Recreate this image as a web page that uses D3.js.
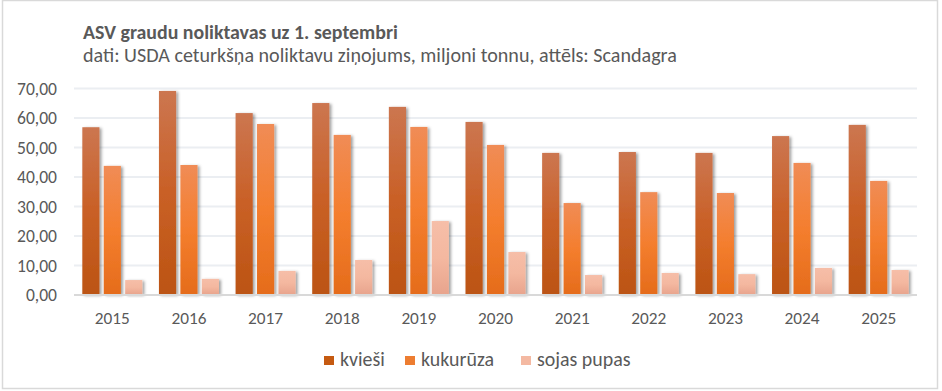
<!DOCTYPE html>
<html><head><meta charset="utf-8">
<script src="https://cdn.jsdelivr.net/npm/d3@7"></script>
<style>
html,body{margin:0;padding:0;background:#fff;}
svg text{font-family:Calibri,Carlito,Lato,"Open Sans",sans-serif;}
</style></head>
<body><svg id="c" width="942" height="391"></svg>
<script>
const years = ["2015","2016","2017","2018","2019","2020","2021","2022","2023","2024","2025"];
const seriesNames = ["kvieši","kukurūza","sojas pupas"];
const kviesi   = [56.7, 69.0, 61.5, 64.9, 63.6, 58.5, 48.0, 48.3, 48.0, 53.7, 57.5];
const kukuruza = [43.6, 43.9, 57.8, 54.1, 56.8, 50.7, 31.0, 34.7, 34.4, 44.6, 38.5];
const sojas    = [4.9, 5.3, 8.0, 11.7, 24.9, 14.4, 6.6, 7.3, 6.9, 9.0, 8.3];
const yTicks = [0,10,20,30,40,50,60,70];
const titleText = "ASV graudu noliktavas uz 1. septembri";
const subtitleText = "dati: USDA ceturkšņa noliktavu ziņojums, miljoni tonnu, attēls: Scandagra";

const seriesValues = [kviesi, kukuruza, sojas];
const grads = [
  {id:"g0", top:"#CC7650", mid:"#C96026", bot:"#BC5413", legend:"#C55A11"},
  {id:"g1", top:"#F08C56", mid:"#F47E2E", bot:"#E56C1B", legend:"#ED7D31"},
  {id:"g2", top:"#F6BEA8", mid:"#F4B8A0", bot:"#E8A48D", legend:"#F4B9A2"}
];

const svg = d3.select("#c");
const defs = svg.append("defs");
grads.forEach(g=>{
  const lg = defs.append("linearGradient").attr("id",g.id).attr("x1",0).attr("y1",0).attr("x2",0).attr("y2",1);
  lg.append("stop").attr("offset","0%").attr("stop-color",g.top);
  lg.append("stop").attr("offset","50%").attr("stop-color",g.mid);
  lg.append("stop").attr("offset","100%").attr("stop-color",g.bot);
});
const f = defs.append("filter").attr("id","sh").attr("x","-30%").attr("y","-10%").attr("width","170%").attr("height","130%");
f.append("feDropShadow").attr("dx",2).attr("dy",1).attr("stdDeviation",1.8).attr("flood-color","#000").attr("flood-opacity",0.38);

// outer border
svg.append("rect").attr("x",2.5).attr("y",0.5).attr("width",935).attr("height",388)
  .attr("fill","#fff").attr("stroke","#D9D9D9").attr("stroke-width",1.5);

const x0 = d3.scaleBand().domain(years).range([74,917]).paddingInner(0.217).paddingOuter(0.1085);
const x1 = d3.scaleBand().domain(seriesNames).range([0,x0.bandwidth()]).paddingInner(0.2);
const y = d3.scaleLinear().domain([0,70]).range([294.5,88]);

function fitSize(textStr, weight, targetW){
  const t = svg.append("text").attr("font-size",100).attr("font-weight",weight).text(textStr);
  const w = t.node().getComputedTextLength();
  t.remove();
  return 100*targetW/w;
}

// gridlines
const grid = svg.append("g")
  .call(d3.axisLeft(y).tickValues(yTicks.filter(v=>v>0)).tickSize(-(917-74)).tickFormat(""))
  .attr("transform","translate(74,0)");
grid.select(".domain").remove();
grid.selectAll("line").attr("stroke","#EBEEF2").attr("stroke-width",2);

// y tick labels
const fmt = d=>d3.format(".2f")(d).replace(".",",");
const tickFs = fitSize(fmt(70),"normal",40);
const yl = svg.append("g").attr("transform","translate(57,0)")
  .call(d3.axisLeft(y).tickValues(yTicks).tickSize(0).tickPadding(0).tickFormat(fmt));
yl.select(".domain").remove();
yl.selectAll("text").attr("font-size",tickFs).attr("fill","#595959").attr("dy","0.36em");

// bars
const groups = svg.append("g").selectAll("g").data(years).join("g")
  .attr("transform",d=>`translate(${x0(d)},0)`);
seriesNames.forEach((s,si)=>{
  groups.append("rect")
    .attr("x",x1(s)).attr("width",x1.bandwidth())
    .attr("y",(d,i)=>y(seriesValues[si][i]))
    .attr("height",(d,i)=>y(0)-y(seriesValues[si][i]))
    .attr("fill",`url(#${grads[si].id})`)
    .attr("filter","url(#sh)");
});

// x axis
const yearFs = fitSize("2015","normal",35);
const xa = svg.append("g").attr("transform","translate(0,295)")
  .call(d3.axisBottom(x0).tickSize(0).tickPadding(0));
xa.select(".domain").attr("stroke","#D9D9D9").attr("stroke-width",2).attr("d","M74,0H917");
xa.selectAll("text").attr("font-size",yearFs).attr("fill","#595959").attr("dy",0).attr("y",28.5);

// title
const t1 = svg.append("text").attr("x",83).attr("y",39).attr("font-weight","bold")
  .attr("font-size",fitSize(titleText,"bold",315)).attr("fill","#595959").text(titleText);
const t2 = svg.append("text").attr("x",83).attr("y",62)
  .attr("font-size",fitSize(subtitleText,"normal",594)).attr("fill","#595959").text(subtitleText);

// legend
const legX = [324, 405, 521];
const legFs = fitSize("kukurūza","normal",73);
const lg = svg.append("g");
seriesNames.forEach((s,i)=>{
  lg.append("rect").attr("x",legX[i]).attr("y",356).attr("width",10).attr("height",9)
    .attr("fill",grads[i].legend);
  lg.append("text").attr("x",legX[i]+16).attr("y",365.5).attr("font-size",legFs)
    .attr("fill","#595959").text(s);
});
</script></body></html>
